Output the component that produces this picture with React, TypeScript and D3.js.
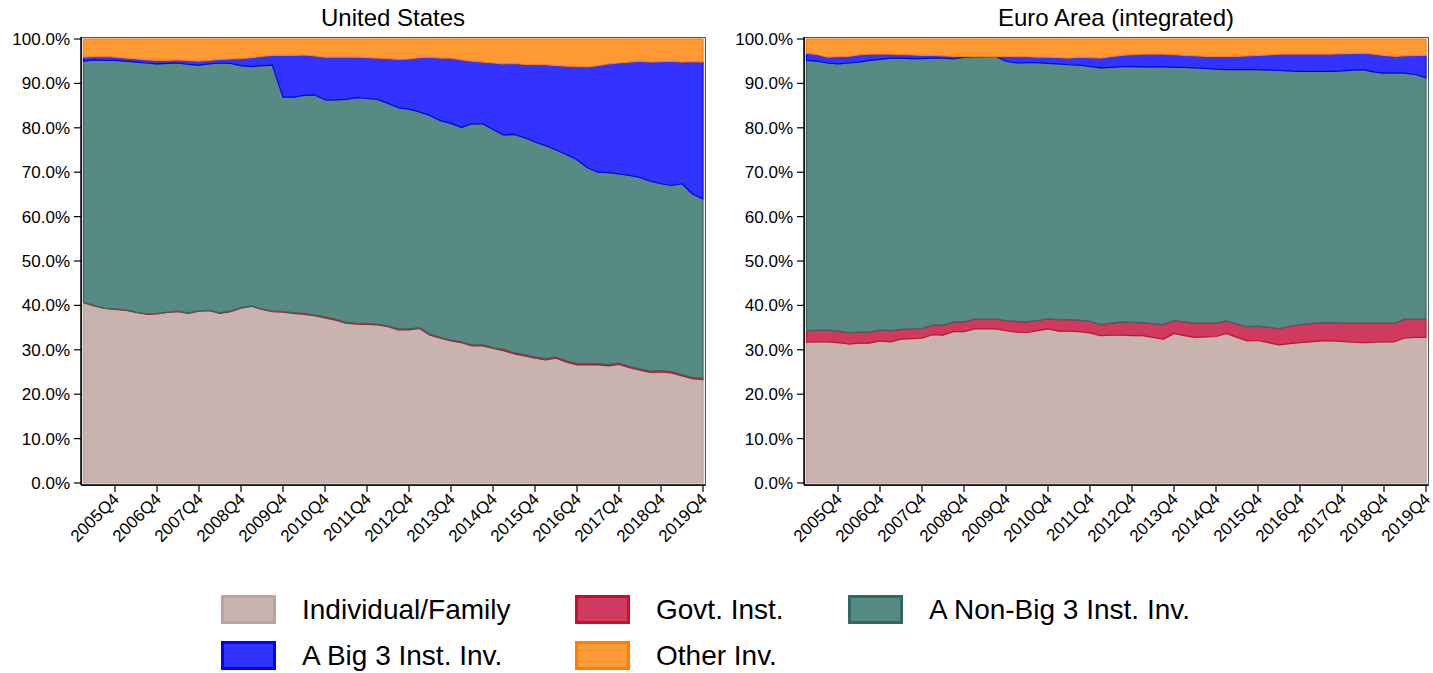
import React from 'react';
import * as d3 from 'd3';

const quarters = d3.range(2005, 2020).flatMap(y => [1, 2, 3, 4].map(q => `${y}Q${q}`));
const tickQuarters = quarters.filter(q => q.endsWith('Q4'));
const yTicks = d3.range(0, 101, 10);

const seriesNames = ['Individual/Family', 'Govt. Inst.', 'A Non-Big 3 Inst. Inv.', 'A Big 3 Inst. Inv.', 'Other Inv.'];
const fills = ['#C9B3AF', '#CF3A5E', '#578A83', '#3333FF', '#FF9933'];
const borders = ['#BDA29D', '#C8102E', '#2F6B63', '#0000FF', '#FF7F00'];

// United States, % of shares
const usIndividual = [40.6,39.9,39.3,39.1,38.9,38.4,38.0,38.1,38.4,38.6,38.2,38.7,38.8,38.2,38.6,39.4,39.8,39.1,38.6,38.5,38.2,38.0,37.7,37.2,36.7,36.0,35.8,35.7,35.6,35.2,34.5,34.5,34.8,33.3,32.6,32.0,31.6,30.9,30.9,30.3,29.8,29.1,28.6,28.1,27.7,28.1,27.2,26.6,26.6,26.6,26.4,26.7,26.0,25.4,24.9,25.0,24.8,24.1,23.5,23.3];
const usGovt = [0.1,0.1,0.1,0.1,0.1,0.1,0.1,0.1,0.1,0.1,0.1,0.1,0.1,0.1,0.1,0.1,0.1,0.1,0.1,0.1,0.2,0.2,0.2,0.2,0.2,0.2,0.2,0.2,0.2,0.2,0.2,0.2,0.2,0.2,0.2,0.2,0.2,0.2,0.2,0.2,0.3,0.3,0.3,0.3,0.3,0.3,0.3,0.3,0.3,0.3,0.3,0.3,0.3,0.3,0.3,0.3,0.3,0.3,0.3,0.3];
const usNonBig3 = [54.3,55.3,55.8,56.0,56.0,56.3,56.5,56.2,56.0,55.9,56.0,55.3,55.5,56.3,55.8,54.5,53.9,54.8,55.4,48.3,48.5,49.1,49.5,48.9,49.4,50.2,50.8,50.7,50.6,50.1,49.8,49.5,48.6,49.3,48.8,48.8,48.3,49.8,49.8,49.1,48.3,49.1,48.9,48.4,48.0,46.6,46.5,45.9,44.1,43.1,43.2,42.6,43.0,43.1,42.8,42.1,41.9,43.0,41.3,40.4];
const usBig3 = [0.9,0.7,0.9,0.7,0.7,0.7,0.7,0.8,0.7,0.7,0.8,0.9,0.8,0.8,1.0,1.6,2.0,2.1,2.2,9.4,9.4,9.1,8.8,9.6,9.6,9.5,9.1,9.2,9.3,10.1,10.9,11.3,12.2,13.1,14.1,14.7,15.2,14.1,13.9,15.0,16.0,16.0,16.5,17.4,18.2,19.0,19.9,21.0,22.7,24.0,24.5,25.0,25.5,26.2,26.8,27.5,28.0,27.4,29.8,30.8];
const usOther = [4.1,4.0,3.9,4.1,4.3,4.5,4.7,4.8,4.8,4.7,4.9,5.0,4.8,4.6,4.5,4.4,4.2,3.9,3.7,3.7,3.7,3.6,3.8,4.1,4.1,4.1,4.1,4.2,4.3,4.4,4.6,4.5,4.2,4.1,4.3,4.3,4.7,5.0,5.2,5.4,5.6,5.5,5.7,5.8,5.8,6.0,6.1,6.2,6.3,6.0,5.6,5.4,5.2,5.0,5.2,5.1,5.0,5.2,5.1,5.2];

// Euro Area (integrated), % of shares
const eaIndividual = [31.7,31.8,31.8,31.6,31.3,31.5,31.5,32.0,31.8,32.4,32.5,32.6,33.4,33.3,34.1,34.1,34.7,34.7,34.7,34.3,34.0,33.9,34.3,34.7,34.2,34.2,34.1,33.8,33.2,33.3,33.3,33.2,33.2,32.8,32.4,33.7,33.2,32.8,32.9,33.0,33.7,32.8,32.0,32.1,31.6,31.1,31.4,31.6,31.8,32.0,32.0,31.9,31.7,31.6,31.7,31.8,31.8,32.7,32.8,32.8];
const eaGovt = [2.6,2.6,2.7,2.6,2.6,2.5,2.5,2.5,2.5,2.2,2.2,2.2,2.2,2.2,2.2,2.2,2.2,2.2,2.2,2.3,2.4,2.4,2.3,2.3,2.6,2.6,2.6,2.6,2.5,2.7,3.0,3.0,2.9,3.1,3.3,2.9,3.1,3.2,3.1,3.0,2.8,3.0,3.2,3.2,3.5,3.7,3.9,4.1,4.1,4.1,4.1,4.1,4.3,4.4,4.3,4.2,4.2,4.2,4.1,4.1];
const eaNonBig3 = [60.9,60.6,60.1,60.2,60.7,60.8,61.2,60.9,61.4,61.1,60.9,60.8,60.1,60.2,59.2,59.6,59.1,59.1,59.2,58.4,58.2,58.4,58.1,57.5,57.6,57.4,57.4,57.4,57.8,57.6,57.5,57.6,57.6,57.8,58.0,57.0,57.3,57.5,57.4,57.2,56.6,57.3,57.9,57.8,57.9,58.1,57.5,57.0,56.8,56.6,56.6,56.8,57.0,57.1,56.6,56.3,56.4,55.4,55.1,54.4];
const eaBig3 = [1.6,1.5,1.3,1.6,1.5,1.6,1.4,1.2,0.9,0.8,0.8,0.7,0.6,0.5,0.6,0.2,0.1,0.1,0.0,1.1,1.4,1.3,1.2,1.4,1.4,1.5,1.8,2.0,2.2,2.4,2.5,2.7,2.9,2.9,2.9,2.9,2.7,2.7,2.7,2.9,3.0,3.0,3.1,3.2,3.4,3.7,3.8,3.9,3.9,3.9,3.9,3.9,3.7,3.7,4.0,4.0,3.7,3.9,4.3,5.0];
const eaOther = [3.2,3.5,4.1,4.0,3.9,3.6,3.4,3.4,3.4,3.5,3.6,3.7,3.7,3.8,3.9,3.9,3.9,3.9,3.9,3.9,4.0,4.0,4.1,4.1,4.2,4.3,4.1,4.2,4.3,4.0,3.7,3.5,3.4,3.4,3.4,3.5,3.7,3.8,3.9,3.9,3.9,3.9,3.8,3.7,3.6,3.4,3.4,3.4,3.4,3.4,3.4,3.3,3.3,3.2,3.4,3.7,3.9,3.8,3.7,3.7];

const FONT = '"Liberation Sans", Arial, Helvetica, sans-serif';

function Panel({ title, series, axisX, x0, x1, frameRight }) {
  const top = 37, bottom = 485;
  const x = d3.scalePoint().domain(quarters).range([x0, x1]);
  const y = d3.scaleLinear().domain([0, 100]).range([483, 39]);

  const rows = quarters.map((q, i) => {
    const r = { q };
    series.forEach((s, k) => { r[k] = s[i]; });
    return r;
  });
  const stacked = d3.stack().keys(series.map((_, k) => k))(rows);
  const area = d3.area()
    .x(d => x(d.data.q))
    .y0(d => y(d[0]))
    .y1(d => y(d[1]));

  return (
    <g>
      <text x={(axisX + frameRight) / 2} y={26} textAnchor="middle" fontSize={24} fontFamily={FONT} fill="#000">{title}</text>
      <rect x={axisX + 0.5} y={top + 0.5} width={frameRight - axisX} height={bottom - top} fill="#fff" stroke="#555" strokeWidth={1} />
      <rect x={axisX + 2} y={top + 2} width={frameRight - axisX - 3} height={bottom - top - 3} fill="none" stroke="#ddd" strokeWidth={1} />
      {stacked.map((layer, k) => (
        <path key={k} d={area(layer)} fill={fills[k]} stroke={borders[k]} strokeWidth={1.2} strokeLinejoin="round" />
      ))}
      <line x1={axisX} x2={axisX} y1={top} y2={bottom} stroke="#000" strokeWidth={1.5} />
      <line x1={axisX} x2={frameRight} y1={bottom} y2={bottom} stroke="#000" strokeWidth={1.5} />
      {yTicks.map(t => (
        <g key={t}>
          <line x1={axisX - 7} x2={axisX} y1={y(t)} y2={y(t)} stroke="#000" strokeWidth={1.2} />
          <text x={axisX - 11} y={y(t)} dy="0.35em" textAnchor="end" fontSize={17} fontFamily={FONT} fill="#000">{d3.format('.1f')(t)}%</text>
        </g>
      ))}
      {tickQuarters.map(q => (
        <g key={q}>
          <line x1={x(q)} x2={x(q)} y1={bottom} y2={bottom + 7} stroke="#000" strokeWidth={1.2} />
          <text transform={`translate(${x(q) + 1},${bottom + 11}) rotate(-45)`} textAnchor="end" dy="0.35em" fontSize={17} fontFamily={FONT} fill="#000">{q}</text>
        </g>
      ))}
    </g>
  );
}

function Legend() {
  const items = [
    { k: 0, x: 221, y: 595 },
    { k: 1, x: 575, y: 595 },
    { k: 2, x: 848, y: 595 },
    { k: 3, x: 221, y: 641 },
    { k: 4, x: 575, y: 641 },
  ];
  return (
    <g>
      {items.map(it => (
        <g key={it.k}>
          <rect x={it.x + 1.5} y={it.y + 1.5} width={52} height={26} fill={fills[it.k]} stroke={borders[it.k]} strokeWidth={3} />
          <text x={it.x + 81} y={it.y + 14} dy="0.35em" fontSize={28} fontFamily={FONT} fill="#000">{seriesNames[it.k]}</text>
        </g>
      ))}
    </g>
  );
}

export default function App() {
  return (
    <svg width={1433} height={673} style={{ position: 'absolute', left: 0, top: 0, display: 'block', background: '#fff' }}>
      <Panel title="United States" series={[usIndividual, usGovt, usNonBig3, usBig3, usOther]} axisX={81} x0={83.5} x1={703} frameRight={705} />
      <Panel title="Euro Area (integrated)" series={[eaIndividual, eaGovt, eaNonBig3, eaBig3, eaOther]} axisX={804} x0={806.5} x1={1426} frameRight={1428} />
      <Legend />
    </svg>
  );
}
